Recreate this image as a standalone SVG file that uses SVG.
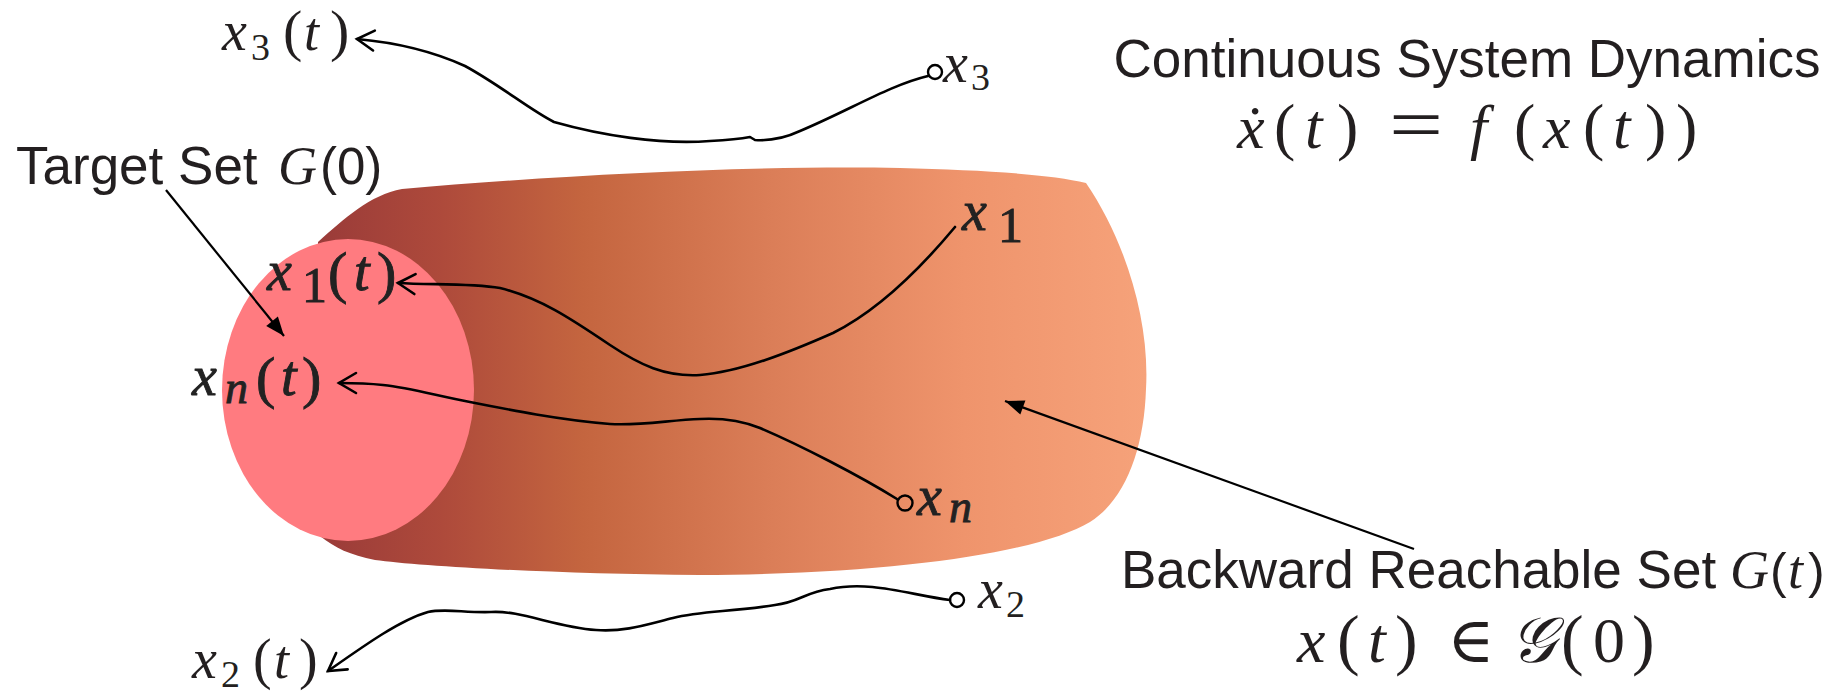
<svg xmlns="http://www.w3.org/2000/svg" width="1848" height="695" viewBox="0 0 1848 695">
<style>
.sans{font-family:"Liberation Sans",Arial,sans-serif;font-size:53px;fill:#231f20}
.m{font-family:"Liberation Serif","DejaVu Serif",serif;fill:#231f20}
.i{font-style:italic}
.mb{font-family:"Liberation Serif","DejaVu Serif",serif;fill:#222;stroke:#222;stroke-width:0.9}
.traj{fill:none;stroke:#000;stroke-width:2.6;stroke-linecap:round;stroke-linejoin:round}
.lead{fill:none;stroke:#000;stroke-width:2.2}
.start{fill:none;stroke:#000;stroke-width:2.4}
</style>
<defs>
<linearGradient id="tubeGrad" gradientUnits="userSpaceOnUse" x1="318" y1="0" x2="1146" y2="0">
<stop offset="0" stop-color="#9a3b39"/>
<stop offset="0.15" stop-color="#ae4a3b"/>
<stop offset="0.32" stop-color="#c4653f"/>
<stop offset="0.55" stop-color="#db7e58"/>
<stop offset="0.78" stop-color="#ef946c"/>
<stop offset="1" stop-color="#f6a27a"/>
</linearGradient>
<marker id="openArrow" viewBox="-22 -14 26 28" refX="0" refY="0" markerWidth="26" markerHeight="28" markerUnits="userSpaceOnUse" orient="auto">
<path d="M-17,-10 L0,0 L-17,10" fill="none" stroke="#000" stroke-width="2.6" stroke-linecap="round" stroke-linejoin="miter"/>
</marker>
<marker id="solidArrow" viewBox="-22 -10 24 20" refX="0" refY="0" markerWidth="24" markerHeight="20" markerUnits="userSpaceOnUse" orient="auto">
<path d="M-19,-7.5 L0,0 L-19,7.5 Z" fill="#000"/>
</marker>
</defs>

<g id="backward-reachable-set">
<path d="M318,242 C345,218 370,195 402,189 C550,176 750,165 900,168 C980,170 1050,174 1086,183 C1125,240 1150,320 1146,389 C1144,450 1125,500 1090,522 C1040,552 900,574 700,575 C550,574 420,566 375,560 C350,555 335,548 320,536 Z" fill="url(#tubeGrad)"/>
</g>

<g id="target-set">
<ellipse cx="348" cy="390" rx="126" ry="151" fill="#ff7b80"/>
</g>

<g id="connectors">
<path class="traj" d="M928,76 C890,85 850,110 800,131 C785,138 770,141 755,140 L750,137 C740,139 730,140 710,141 C660,145 600,135 554,122 C530,110 500,85 465,66 C430,50 390,42 357,39" marker-end="url(#openArrow)"/>
<path class="traj" d="M955,227 C915,275 875,312 833,333 C790,352 740,372 700,375 C665,377 640,365 610,345 C570,318 540,298 500,288 C470,283 430,285 398,283" marker-end="url(#openArrow)"/>
<path class="traj" d="M897,499 C860,476 800,445 760,428 C740,420 720,418 700,419 C670,420 640,426 610,424 C560,420 510,410 470,402 C430,394 410,388 383,385 C365,383 350,383 339,383" marker-end="url(#openArrow)"/>
<path class="traj" d="M950,600 C910,595 870,580 830,589 C805,592 800,602 775,605 C730,612 700,611 673,618 C645,625 625,632 596,630 C555,627 520,610 491,612 C465,613 445,608 428,612 C400,620 365,645 328,671" marker-end="url(#openArrow)"/>
<circle class="start" cx="935" cy="72" r="7"/>
<circle class="start" cx="905" cy="503" r="7.5"/>
<circle class="start" cx="957" cy="600" r="7"/>
<line class="lead" x1="166" y1="190" x2="284" y2="336" marker-end="url(#solidArrow)"/>
<line class="lead" x1="1414" y1="549" x2="1005" y2="401" marker-end="url(#solidArrow)"/>
</g>

<g id="label-x3t">
<text class="m"><tspan class="i" x="222" y="50" font-size="56">x</tspan><tspan x="251" y="60" font-size="38">3</tspan><tspan x="283" y="50" font-size="58">(</tspan><tspan class="i" x="304" y="50" font-size="54">t</tspan><tspan x="330" y="50" font-size="58">)</tspan></text>
</g>
<g id="label-x3">
<text class="m"><tspan class="i" x="943" y="82" font-size="56">x</tspan><tspan x="971" y="90" font-size="38">3</tspan></text>
</g>
<g id="label-x2t">
<text class="m"><tspan class="i" x="192" y="678" font-size="56">x</tspan><tspan x="221" y="687" font-size="38">2</tspan><tspan x="253" y="678" font-size="56">(</tspan><tspan class="i" x="274" y="678" font-size="54">t</tspan><tspan x="299" y="678" font-size="56">)</tspan></text>
</g>
<g id="label-x2">
<text class="m"><tspan class="i" x="978" y="608" font-size="56">x</tspan><tspan x="1006" y="617" font-size="38">2</tspan></text>
</g>
<g id="label-x1t">
<text class="mb"><tspan class="i" x="267" y="290" font-size="56">x</tspan><tspan x="302" y="302" font-size="50">1</tspan><tspan x="328" y="292" font-size="58">(</tspan><tspan class="i" x="354" y="290" font-size="56">t</tspan><tspan x="377" y="292" font-size="58">)</tspan></text>
</g>
<g id="label-xnt">
<text class="mb"><tspan class="i" x="192" y="395" font-size="56">x</tspan><tspan class="i" x="225" y="403" font-size="46">n</tspan><tspan x="256" y="397" font-size="58">(</tspan><tspan class="i" x="281" y="395" font-size="56">t</tspan><tspan x="302" y="397" font-size="58">)</tspan></text>
</g>
<g id="label-x1">
<text class="mb"><tspan class="i" x="962" y="230" font-size="56">x</tspan><tspan x="998" y="242" font-size="50">1</tspan></text>
</g>
<g id="label-xn">
<text class="mb"><tspan class="i" x="917" y="515" font-size="56">x</tspan><tspan class="i" x="949" y="522" font-size="46">n</tspan></text>
</g>

<g id="label-target">
<text class="sans" x="16" y="184">Target Set<tspan class="m i" x="278" font-size="54">G</tspan><tspan x="320" font-size="51">(0)</tspan></text>
</g>

<g id="label-dynamics">
<text class="sans" x="1467" y="77" text-anchor="middle">Continuous System Dynamics</text>
<text class="m" y="148"><tspan class="i" x="1237" font-size="62">ẋ</tspan><tspan x="1274" font-size="64">(</tspan><tspan class="i" x="1305" font-size="63">t</tspan><tspan x="1337" font-size="64">)</tspan><tspan class="i" x="1470" font-size="62">f</tspan><tspan x="1514" font-size="64">(</tspan><tspan class="i" x="1543" font-size="62">x</tspan><tspan x="1583" font-size="64">(</tspan><tspan class="i" x="1613" font-size="63">t</tspan><tspan x="1645" font-size="64">)</tspan><tspan x="1676" font-size="64">)</tspan></text>
<text class="m" font-size="64" transform="translate(1389,149) scale(1.5,1.15)">=</text>
</g>

<g id="label-backward">
<text class="sans" x="1121" y="588">Backward Reachable Set<tspan class="m i" x="1730" font-size="54">G</tspan><tspan x="1770" font-size="50">(</tspan><tspan class="m i" x="1788" font-size="54">t</tspan><tspan x="1808" font-size="50">)</tspan></text>
<text class="m" y="662"><tspan class="i" x="1297" font-size="64">x</tspan><tspan x="1337" font-size="68">(</tspan><tspan class="i" x="1368" font-size="64">t</tspan><tspan x="1395" font-size="68">)</tspan><tspan x="1447" font-size="64">∈</tspan><tspan class="i" x="1510" font-size="64">𝒢</tspan><tspan x="1561" font-size="68">(</tspan><tspan x="1593" font-size="64">0</tspan><tspan x="1632" font-size="68">)</tspan></text>
</g>
</svg>
